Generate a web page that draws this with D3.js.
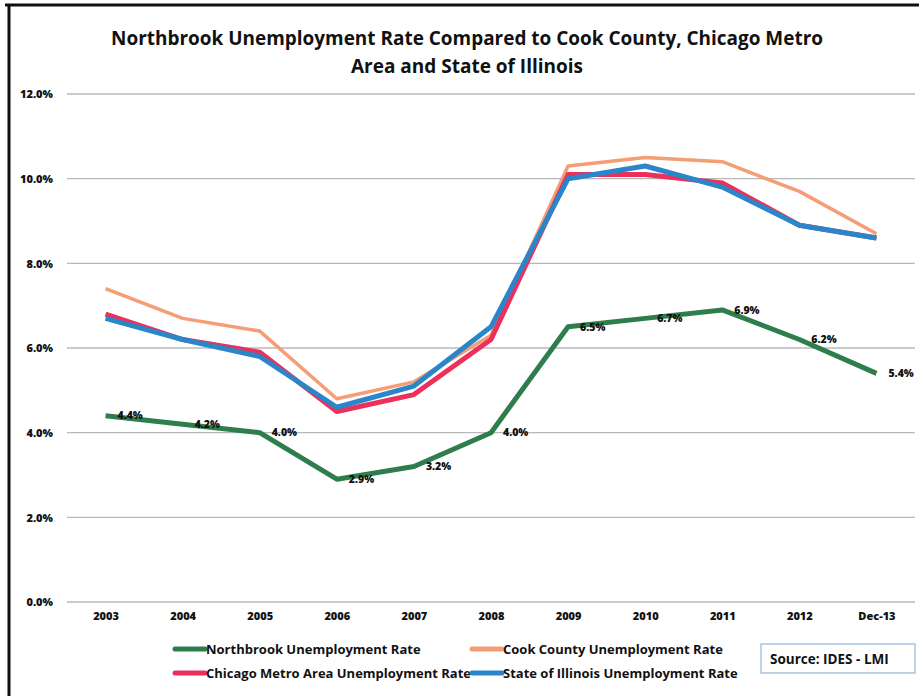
<!DOCTYPE html>
<html>
<head>
<meta charset="utf-8">
<script src="https://cdn.jsdelivr.net/npm/d3@7"></script>
<style>
  html, body { margin: 0; padding: 0; background: #fff; }
  svg { display: block; }
  text { font-family: "Open Sans", "Liberation Sans", Arial, sans-serif; }
</style>
</head>
<body>
<svg id="chart" width="919" height="696"></svg>
<script>
const categories = ["2003","2004","2005","2006","2007","2008","2009","2010","2011","2012","Dec-13"];
const northbrook = [4.4, 4.2, 4.0, 2.9, 3.2, 4.0, 6.5, 6.7, 6.9, 6.2, 5.4];
const cookCounty = [7.4, 6.7, 6.4, 4.8, 5.2, 6.3, 10.3, 10.5, 10.4, 9.7, 8.7];
const chicagoMetro = [6.8, 6.2, 5.9, 4.5, 4.9, 6.2, 10.1, 10.1, 9.9, 8.9, 8.6];
const illinois = [6.7, 6.2, 5.8, 4.6, 5.1, 6.5, 10.0, 10.3, 9.8, 8.9, 8.6];
const yTicks = [0, 2, 4, 6, 8, 10, 12];
const seriesNames = ["Northbrook Unemployment Rate", "Cook County Unemployment Rate",
                     "Chicago Metro Area Unemployment Rate", "State of Illinois Unemployment Rate"];
const seriesColors = ["#2E7D4C", "#F59D74", "#EC2F5B", "#2A86C8"];
const titleLines = ["Northbrook Unemployment Rate Compared to Cook County, Chicago Metro",
                    "Area and State of Illinois"];
const sourceText = "Source: IDES - LMI";

const svg = d3.select("#chart");
const plot = {left: 67, right: 915, top: 94, bottom: 602};

// frame
svg.append("line").attr("x1", 5).attr("x2", 919).attr("y1", 5).attr("y2", 5)
  .attr("stroke", "#111").attr("stroke-width", 3);
svg.append("line").attr("x1", 9).attr("x2", 9).attr("y1", 4).attr("y2", 696)
  .attr("stroke", "#111").attr("stroke-width", 3);

// title
svg.append("g").selectAll("text").data(titleLines).join("text")
  .attr("x", 467).attr("y", (d, i) => 45 + i * 28)
  .attr("text-anchor", "middle")
  .attr("font-size", 19).attr("font-weight", "bold").attr("fill", "#111")
  .attr("textLength", (d, i) => i === 0 ? 712 : null)
  .attr("lengthAdjust", "spacingAndGlyphs")
  .text(d => d);

const x = d3.scalePoint().domain(categories).range([plot.left, plot.right]).padding(0.5);
const y = d3.scaleLinear().domain([0, 12]).range([plot.bottom, plot.top]);

// grid
svg.append("g").selectAll("line").data(yTicks).join("line")
  .attr("x1", plot.left).attr("x2", plot.right)
  .attr("y1", d => y(d)).attr("y2", d => y(d))
  .attr("stroke", "#b8b8b8").attr("stroke-width", 1.3);

// y axis
const yAxis = d3.axisLeft(y).tickValues(yTicks).tickFormat(d => d3.format(".1f")(d) + "%").tickSize(0).tickPadding(0);
const yg = svg.append("g").attr("transform", `translate(${plot.left - 14},0)`).call(yAxis);
yg.select(".domain").remove();
yg.selectAll("text").attr("font-size", 11).attr("font-weight", 800).attr("fill", "#111")
  .attr("dy", "0.35em");

// x axis
const xAxis = d3.axisBottom(x).tickSize(0).tickPadding(0);
const xg = svg.append("g").attr("transform", `translate(0,${plot.bottom + 10})`).call(xAxis);
xg.select(".domain").remove();
xg.selectAll("text").attr("font-size", 11).attr("font-weight", 800).attr("fill", "#111");

// lines
const allSeries = [northbrook, cookCounty, chicagoMetro, illinois];
const widths = [5, 3.5, 5, 5];
const line = d3.line().x((d, i) => x(categories[i])).y(d => y(d));
allSeries.forEach((s, k) => {
  svg.append("path").datum(s)
    .attr("d", line).attr("fill", "none")
    .attr("stroke", seriesColors[k]).attr("stroke-width", widths[k])
    .attr("stroke-linejoin", "round").attr("stroke-linecap", "butt");
});

// data labels for Northbrook
svg.append("g").selectAll("text").data(northbrook).join("text")
  .attr("x", (d, i) => x(categories[i]) + 12)
  .attr("y", d => y(d))
  .attr("dy", "0.35em")
  .attr("font-size", 10.5).attr("font-weight", 800).attr("fill", "#111")
  .text(d => d3.format(".1f")(d) + "%");

// legend
const legendPos = [[175, 649], [472, 649], [175, 673], [472, 673]];
const lg = svg.append("g");
seriesNames.forEach((n, k) => {
  const [lx, ly] = legendPos[k];
  lg.append("line").attr("x1", lx).attr("x2", lx + 30).attr("y1", ly).attr("y2", ly)
    .attr("stroke", seriesColors[k]).attr("stroke-width", 5).attr("stroke-linecap", "round");
  lg.append("text").attr("x", lx + 31).attr("y", ly).attr("dy", "0.35em")
    .attr("font-size", 13).attr("font-weight", "bold").attr("fill", "#111")
    .text(n);
});

// source box
svg.append("rect").attr("x", 761).attr("y", 644).attr("width", 154).attr("height", 29)
  .attr("fill", "#fff").attr("stroke", "#8fb4d9").attr("stroke-width", 1.2);
svg.append("text").attr("x", 770).attr("y", 659).attr("dy", "0.35em")
  .attr("font-size", 13.5).attr("font-weight", "bold").attr("fill", "#111")
  .text(sourceText);
</script>
</body>
</html>
